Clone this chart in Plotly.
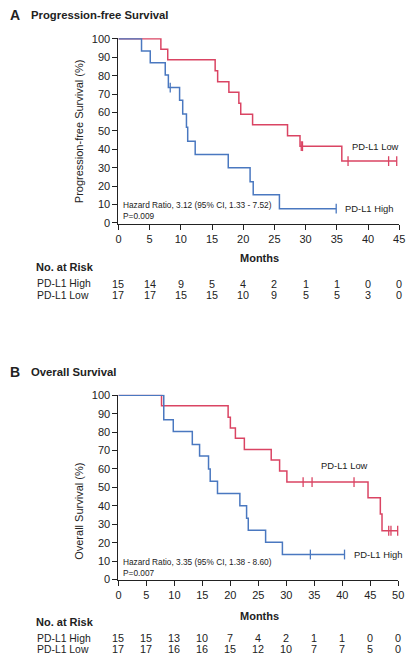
import plotly.graph_objects as go

# ---------------- data ----------------
months_pfs = [0, 5, 10, 15, 20, 25, 30, 35, 40, 45]
months_os = [0, 5, 10, 15, 20, 25, 30, 35, 40, 45, 50]

# Progression-free survival: step times (months) and survival levels (%)
pfs_high_t = [0, 3.7, 5.1, 7.5, 8.0, 9.8, 10.3, 10.9, 11.1, 12.3, 17.6, 21.1, 21.6, 25.8, 34.9]
pfs_high_s = [100, 93.4, 87.0, 80.3, 73.5, 66.7, 59.2, 52.0, 44.4, 37.2, 30.0, 22.4, 15.3, 7.8, 7.8]
pfs_high_cens_t = [8.3, 34.9]
pfs_high_cens_s = [73.5, 7.8]

pfs_low_t = [0, 6.8, 7.9, 15.5, 15.9, 17.7, 19.3, 19.6, 21.5, 27.1, 29.1, 35.8, 44.6]
pfs_low_s = [100, 94.4, 88.6, 82.6, 76.7, 71.0, 65.0, 59.1, 53.3, 47.4, 41.7, 33.6, 33.6]
pfs_low_cens_t = [29.3, 29.5, 36.8, 43.3, 44.6]
pfs_low_cens_s = [41.7, 41.7, 33.6, 33.6, 33.6]

# Overall survival
os_high_t = [0, 8.1, 9.8, 13.2, 14.5, 16.1, 16.4, 17.7, 21.7, 22.9, 23.2, 26.3, 29.3, 40.4]
os_high_s = [100, 86.7, 80.3, 73.3, 67.0, 60.0, 53.3, 46.7, 40.0, 33.3, 26.7, 20.2, 13.6, 13.6]
os_high_cens_t = [34.3, 40.4]
os_high_cens_s = [13.6, 13.6]

os_low_t = [0, 7.7, 19.6, 20.0, 20.9, 22.5, 27.3, 28.8, 30.1, 44.6, 46.8, 47.1, 49.9]
os_low_s = [100, 94.3, 88.1, 82.2, 76.6, 70.6, 64.8, 58.9, 52.9, 44.4, 35.6, 26.5, 26.5]
os_low_cens_t = [33.0, 34.6, 42.1, 48.3, 48.7, 49.9]
os_low_cens_s = [52.9, 52.9, 52.9, 26.5, 26.5, 26.5]

# Numbers at risk
pfs_risk_high = [15, 14, 9, 5, 4, 2, 1, 1, 0, 0]
pfs_risk_low = [17, 17, 15, 15, 10, 9, 5, 5, 3, 0]
os_risk_high = [15, 15, 13, 10, 7, 4, 2, 1, 1, 0, 0]
os_risk_low = [17, 17, 16, 16, 15, 12, 10, 7, 7, 5, 0]

group_labels = ["PD-L1 High", "PD-L1 Low"]
titles = ["Progression-free Survival", "Overall Survival"]
ytitles = ["Progression-free Survival (%)", "Overall Survival (%)"]
hr_texts = ["Hazard Ratio, 3.12 (95% CI, 1.33 - 7.52)<br>P=0.009",
            "Hazard Ratio, 3.35 (95% CI, 1.38 - 8.60)<br>P=0.007"]
y_ticks = list(range(0, 101, 10))

# ---------------- style ----------------
W, H = 415, 665
RED = "#DA4463"
BLUE = "#4A78C0"
TXT = "#222222"
FONT = "Liberation Sans, Arial, Helvetica, sans-serif"


def px(x):
    return x / W


def py(y):
    return 1 - y / H


fig = go.Figure()


def add_curve(t, s, ct, cs, color, xa, ya):
    fig.add_trace(go.Scatter(x=t, y=s, mode="lines", line=dict(color=color, width=1.5, shape="hv"),
                             xaxis=xa, yaxis=ya, showlegend=False, hoverinfo="skip"))
    fig.add_trace(go.Scatter(x=ct, y=cs, mode="markers", cliponaxis=False,
                             marker=dict(symbol="line-ns", size=7, line=dict(color=color, width=1.3)),
                             xaxis=xa, yaxis=ya, showlegend=False, hoverinfo="skip"))


add_curve(pfs_low_t, pfs_low_s, pfs_low_cens_t, pfs_low_cens_s, RED, "x", "y")
add_curve(pfs_high_t, pfs_high_s, pfs_high_cens_t, pfs_high_cens_s, BLUE, "x", "y")
add_curve(os_low_t, os_low_s, os_low_cens_t, os_low_cens_s, RED, "x2", "y2")
add_curve(os_high_t, os_high_s, os_high_cens_t, os_high_cens_s, BLUE, "x2", "y2")

axis_common = dict(showline=True, linecolor=TXT, linewidth=1.2, ticks="outside", ticklen=5,
                   tickwidth=1.2, tickcolor=TXT, showgrid=False, zeroline=False,
                   tickfont=dict(family=FONT, size=11, color=TXT))

fig.update_layout(
    width=W, height=H, margin=dict(l=0, r=0, t=0, b=0),
    paper_bgcolor="white", plot_bgcolor="white",
    font=dict(family=FONT, color=TXT),
    xaxis=dict(domain=[px(118), px(405)], range=[0, 45], tickvals=months_pfs, anchor="y", **axis_common),
    yaxis=dict(domain=[py(221.2), py(32.8)], range=[-0.3, 100.3], tickvals=y_ticks, anchor="x", **axis_common),
    xaxis2=dict(domain=[px(118), px(404)], range=[0, 50], tickvals=months_os, anchor="y2", **axis_common),
    yaxis2=dict(domain=[py(583.8), py(395.2)], range=[-0.3, 100.3], tickvals=y_ticks, anchor="x2", **axis_common),
)

ann = []


def text(x, y, s, size, bold=False, xanchor="left", xref="paper", angle=0, align="left"):
    ann.append(dict(x=x, y=y, xref=xref, yref="paper", text=("<b>%s</b>" % s) if bold else s,
                    showarrow=False, xanchor=xanchor, yanchor="middle", textangle=angle, align=align,
                    font=dict(family=FONT, size=size, color=TXT)))


panels = [
    dict(letter_y=9, ytitle_y=127, months_y=256.5, risk_head_y=265.5, rows_y=(282.3, 294.2),
         hr_y=207.5, low_lab=(355, 143), high_lab=(348, 206), xref="x",
         months=months_pfs, risk=(pfs_risk_high, pfs_risk_low)),
    dict(letter_y=372, ytitle_y=514, months_y=620, risk_head_y=626.5, rows_y=(642.7, 654.2),
         hr_y=570.5, low_lab=(322.5, 467.5), high_lab=(356.5, 557.5), xref="x2",
         months=months_os, risk=(os_risk_high, os_risk_low)),
]

for i, p in enumerate(panels):
    text(px(5), py(p["letter_y"]), "A" if i == 0 else "B", 14, bold=True)
    text(px(26.5), py(p["letter_y"]), titles[i], 11.3, bold=True)
    text(px(78), py(p["ytitle_y"]), ytitles[i], 11, xanchor="center", angle=-90)
    text(px(262), py(p["months_y"]), "Months", 11, bold=True, xanchor="center")
    text(px(31.5), py(p["risk_head_y"]), "No. at Risk", 11, bold=True)
    text(px(121), py(p["hr_y"]), hr_texts[i], 8.3)
    text(px(p["low_lab"][0]), py(p["low_lab"][1]), "PD-L1 Low", 9.4)
    text(px(p["high_lab"][0]), py(p["high_lab"][1]), "PD-L1 High", 9.4)
    for r in range(2):
        text(px(33), py(p["rows_y"][r]), group_labels[r], 10.4)
        for m, v in zip(p["months"], p["risk"][r]):
            text(m, py(p["rows_y"][r]), str(v), 10.8, xanchor="center", xref=p["xref"])

fig.update_layout(annotations=ann)
fig.write_html("out.html", config={"displayModeBar": False},
               post_script="document.body.style.margin='0';document.body.style.overflow='hidden';")
